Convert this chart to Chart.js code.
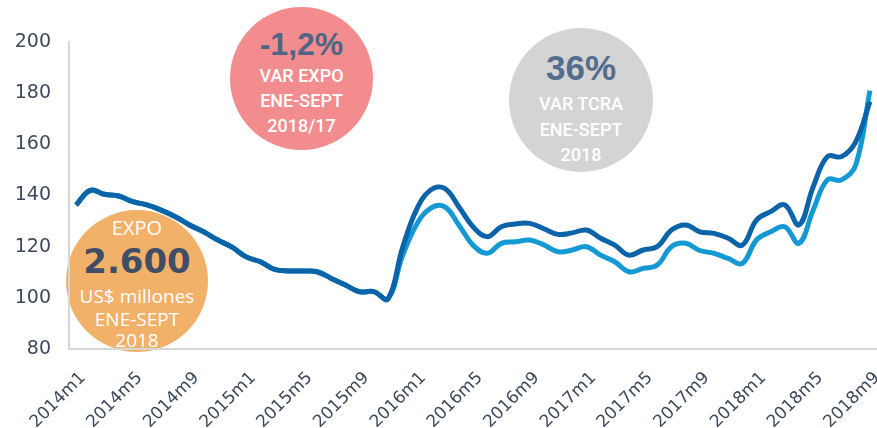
<!DOCTYPE html>
<html>
<head>
<meta charset="utf-8">
<script src="https://cdn.jsdelivr.net/npm/chart.js@4/dist/chart.umd.min.js"></script>
<style>
  html, body { margin:0; padding:0; background:#fff; }
  #wrap { position:relative; width:877px; height:428px; overflow:hidden; }
  #c { position:absolute; left:0; top:0; z-index:2; }
  .circle { position:absolute; border-radius:50%; z-index:1; text-align:center; }
  .t { position:absolute; left:0; width:100%; transform:translateY(-50%); white-space:nowrap; line-height:1; }
  .narrow { font-family:Roboto, "Liberation Sans", Arial, sans-serif; }
  .wide { font-family:"Open Sans", sans-serif; }
</style>
</head>
<body>
<div id="wrap">
  <div class="circle narrow" style="left:230px;top:7px;width:143px;height:143px;background:#f38c8e;">
    <div class="t" style="top:37px;font-size:32px;font-weight:bold;color:#4e6686;font-family:'Liberation Sans',Arial,sans-serif;">-1,2%</div>
    <div class="t" style="top:69px;font-size:18px;font-weight:500;color:#fff;">VAR EXPO</div>
    <div class="t" style="top:94px;font-size:18px;font-weight:500;color:#fff;">ENE-SEPT</div>
    <div class="t" style="top:119px;font-size:18px;font-weight:500;color:#fff;">2018/17</div>
  </div>
  <div class="circle narrow" style="left:509px;top:28px;width:144px;height:144px;background:#d4d4d4;">
    <div class="t" style="top:39px;font-size:35px;font-weight:bold;color:#536d8d;font-family:'Liberation Sans',Arial,sans-serif;">36%</div>
    <div class="t" style="top:76px;font-size:18px;font-weight:500;color:#fff;">VAR TCRA</div>
    <div class="t" style="top:102px;font-size:18px;font-weight:500;color:#fff;">ENE-SEPT</div>
    <div class="t" style="top:127px;font-size:18px;font-weight:500;color:#fff;">2018</div>
  </div>
  <div class="circle wide" style="left:66px;top:210px;width:142px;height:142px;background:#f2b169;">
    <div class="t" style="top:18px;font-size:20px;color:#fff;">EXPO</div>
    <div class="t" style="top:51px;font-size:34px;font-weight:bold;color:#3f4e66;font-family:'DejaVu Sans',sans-serif;">2.600</div>
    <div class="t" style="top:86px;font-size:19px;color:#fff;">US$ millones</div>
    <div class="t" style="top:109px;font-size:19px;color:#fff;">ENE-SEPT</div>
    <div class="t" style="top:130px;font-size:19px;color:#fff;">2018</div>
  </div>
  <canvas id="c" width="877" height="428"></canvas>
</div>
<script>
const categories = [
  "2014m1","2014m2","2014m3","2014m4","2014m5","2014m6","2014m7","2014m8","2014m9","2014m10","2014m11","2014m12",
  "2015m1","2015m2","2015m3","2015m4","2015m5","2015m6","2015m7","2015m8","2015m9","2015m10","2015m11","2015m12",
  "2016m1","2016m2","2016m3","2016m4","2016m5","2016m6","2016m7","2016m8","2016m9","2016m10","2016m11","2016m12",
  "2017m1","2017m2","2017m3","2017m4","2017m5","2017m6","2017m7","2017m8","2017m9","2017m10","2017m11","2017m12",
  "2018m1","2018m2","2018m3","2018m4","2018m5","2018m6","2018m7","2018m8","2018m9"
];
const seriesDark = [
  136.3,142,140.5,139.8,137.6,136.3,134.3,131.7,128.5,125.8,122.6,119.8,
  116,114.1,111.1,110.5,110.5,110.2,107.6,105,102.4,102.4,99.6,119,
  134.3,142.1,142.8,135.6,127.8,123.9,127.8,128.9,129.1,127,124.8,125.4,
  126.5,123.3,120.6,116.7,118.7,120,126.5,128.5,125.8,125.2,123.3,120.6,
  130.4,133.7,136.3,128.5,143.4,155.2,155.2,161,176.7
];
const seriesLight = [
  136.3,142,140.5,139.8,137.6,136.3,134.3,131.7,128.5,125.8,122.6,119.8,
  116,114.1,111.1,110.5,110.5,110.2,107.6,105,102.4,102.4,99.6,116,
  128.5,135,135.6,128.5,120.6,117.4,121.3,121.9,122.6,120.7,118,118.7,
  120,116.7,114.1,110.2,111.5,112.8,120,121.3,118.5,117.4,115.4,113.5,
  122.6,125.8,127.8,121.3,134.3,146.1,146.1,151.9,181
];
const yTicks = [80,100,120,140,160,180,200];

new Chart(document.getElementById('c'), {
  type: 'line',
  data: {
    labels: categories,
    datasets: [
      { label:'light', data: seriesLight, borderColor:'#1599d4', borderWidth:5, pointRadius:0, tension:0.4, fill:false, order:2 },
      { label:'dark', data: seriesDark, borderColor:'#0b63a8', borderWidth:5, pointRadius:0, tension:0.4, fill:false, order:1 }
    ]
  },
  options: {
    responsive:false,
    animation:false,
    layout:{ padding:{ top:42, right:0, left:0, bottom:0 } },
    plugins:{ legend:{display:false}, tooltip:{enabled:false} },
    scales:{
      x:{
        offset:true,
        grid:{ display:false, offset:false },
        border:{ display:true, color:'#d6d6d6', width:2 },
        ticks:{
          autoSkip:false, minRotation:45, maxRotation:45, padding:11, labelOffset:7,
          color:'#3d4a5c', font:{ family:'DejaVu Sans', size:17 },
          callback:function(v, i){ return i % 4 === 0 ? categories[i] : ''; }
        },
        afterFit:function(s){ s.height = 79; s.paddingLeft = 0; s.paddingRight = 0; }
      },
      y:{
        min:80, max:200,
        grid:{ display:false },
        border:{ display:true, color:'#d6d6d6', width:2 },
        afterBuildTicks:function(s){ s.ticks = yTicks.map(v => ({value:v})); },
        ticks:{ padding:10, color:'#3d4a5c', font:{ family:'DejaVu Sans', size:19 } },
        afterFit:function(s){ s.width = 69; }
      }
    }
  }
});
</script>
</body>
</html>
